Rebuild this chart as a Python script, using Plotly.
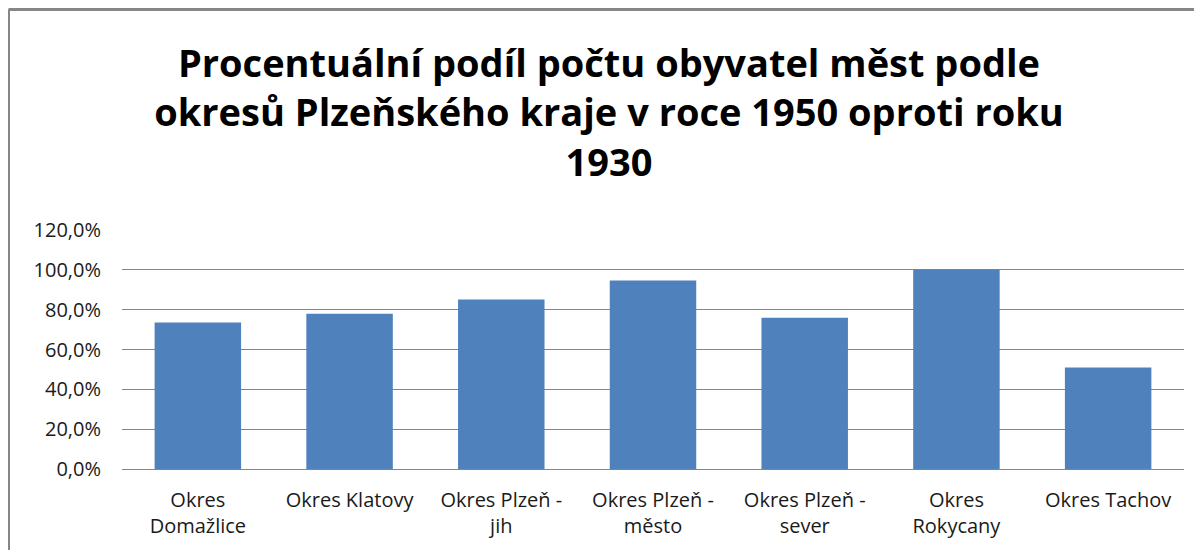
import plotly.graph_objects as go

categories = ["Okres<br>Domažlice", "Okres Klatovy", "Okres Plzeň -<br>jih", "Okres Plzeň -<br>město",
              "Okres Plzeň -<br>sever", "Okres<br>Rokycany", "Okres Tachov"]
values = [73.5, 78.0, 85.1, 94.6, 76.0, 100.0, 50.9]
y_ticks = [0, 20, 40, 60, 80, 100, 120]
y_tick_labels = [f"{v:.1f}".replace(".", ",") + "%" for v in y_ticks]

title_text = ("Procentuální podíl počtu obyvatel měst podle<br>"
              "okresů Plzeňského kraje v roce 1950 oproti roku<br>1930")

# the page places the figure 8px in from the top-left corner of the window
OFF = 8
W, H = 1202 - 2 * OFF, 558 - 2 * OFF
L, R, T = 122 - OFF, W - (1184 - OFF), 230 - OFF
B = H - (469 - OFF)

fig = go.Figure(go.Bar(x=categories, y=values, marker=dict(color="#4F81BD", line=dict(width=0))))

fig.update_layout(
    width=W, height=H,
    margin=dict(l=L, r=R, t=T, b=B),
    paper_bgcolor="white", plot_bgcolor="white",
    bargap=0.43,
    showlegend=False,
    font=dict(family="Open Sans", color="#1a1a1a"),
    title=dict(text=title_text, x=(609 - OFF) / W, xanchor="center", xref="container",
               y=1 - 69 / H, yanchor="top",
               font=dict(family="Open Sans", size=38, color="black", weight="bold")),
)
fig.update_xaxes(tickfont=dict(size=20, family="Open Sans"), showline=False, ticks="",
                 showgrid=False, ticklabelstandoff=17)
fig.update_yaxes(range=[0, 120], tickvals=y_ticks, ticktext=y_tick_labels,
                 tickfont=dict(size=20, family="Open Sans"),
                 showgrid=True, gridcolor="#868686", gridwidth=1,
                 zeroline=True, zerolinecolor="#868686", zerolinewidth=1,
                 showline=False, ticks="", ticklabelstandoff=20)

# outer chart border (top and left edges visible in the window)
pw, ph = W - L - R, H - T - B
bx = (0.5 - L) / pw
by = 1 + (T - 1.5) / ph
fig.add_shape(type="line", xref="paper", yref="paper", x0=bx, x1=(W - L) / pw, y0=by, y1=by,
              line=dict(color="#868686", width=3))
fig.add_shape(type="line", xref="paper", yref="paper", x0=bx, x1=bx, y0=by, y1=-B / ph,
              line=dict(color="#868686", width=3))

fig.write_html("out.html")
